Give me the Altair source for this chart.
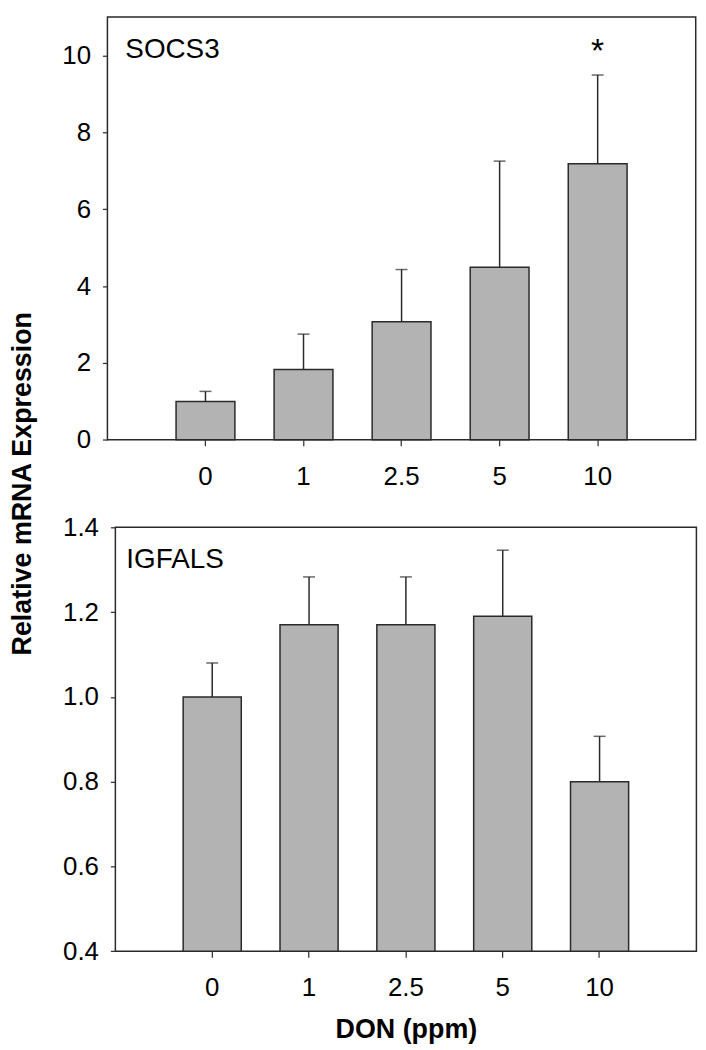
import altair as alt
import pandas as pd

# ---- data ----
doses = ["0", "1", "2.5", "5", "10"]

socs3_mean = [1.00, 1.83, 3.07, 4.49, 7.18]
socs3_sem = [0.26, 0.92, 1.36, 2.76, 2.31]
socs3_sig = ["", "", "", "", "*"]
socs3_sig_y = [10.1, 10.1, 10.1, 10.1, 10.1]

igfals_mean = [1.00, 1.17, 1.17, 1.19, 0.80]
igfals_sem = [0.08, 0.113, 0.113, 0.156, 0.107]

socs3_ticks = [0, 2, 4, 6, 8, 10]
igfals_ticks = [0.4, 0.6, 0.8, 1.0, 1.2, 1.4]

FONT = "Liberation Sans"
INK = "#2a2a2a"
BAR_FILL = "#b3b3b3"

socs3 = pd.DataFrame({
    "dose": doses, "mean": socs3_mean,
    "upper": [m + s for m, s in zip(socs3_mean, socs3_sem)],
    "sig": socs3_sig, "sig_y": socs3_sig_y,
})
igfals = pd.DataFrame({
    "dose": doses, "mean": igfals_mean,
    "upper": [m + s for m, s in zip(igfals_mean, igfals_sem)],
})


def x_enc(axis):
    return alt.X("dose:N", sort=doses,
                 scale=alt.Scale(paddingInner=0.4, paddingOuter=0.7),
                 axis=axis)


def make_panel(df, ydom, base, y_axis, x_axis, width, height, label, label_x, star):
    ys = alt.Scale(domain=ydom, nice=False, zero=False)
    x = x_enc(x_axis)
    bars = alt.Chart(df).mark_bar(fill=BAR_FILL, stroke=INK, strokeWidth=1.5).encode(
        x=x, y=alt.Y("mean:Q", scale=ys, axis=y_axis), y2=alt.datum(base))
    rules = alt.Chart(df).mark_rule(color=INK, strokeWidth=1.5).encode(
        x=x, y=alt.Y("mean:Q", scale=ys, axis=y_axis), y2=alt.Y2("upper:Q"))
    caps = alt.Chart(df).mark_tick(color=INK, thickness=1.5, size=12, orient="horizontal").encode(
        x=x, y=alt.Y("upper:Q", scale=ys, axis=y_axis))
    lab = alt.Chart(pd.DataFrame({"t": [label]})).mark_text(
        align="left", baseline="middle", fontSize=28, font=FONT, color="black").encode(
        text="t:N", x=alt.value(label_x), y=alt.value(33))
    layers = [bars, rules, caps, lab]
    if star:
        st = alt.Chart(df).mark_text(baseline="middle", fontSize=34, font=FONT, color="black").encode(
            x=x, y=alt.Y("sig_y:Q", scale=ys, axis=y_axis), text="sig:N")
        layers.append(st)
    return alt.layer(*layers).properties(width=width, height=height)


common_y = dict(labelFontSize=26, labelFont=FONT, labelColor="black", labelPadding=12,
                tickSize=5, tickColor=INK, tickWidth=1.2, domain=False, grid=False)
common_x = dict(labelFontSize=26, labelFont=FONT, labelColor="black", labelPadding=18,
                labelAngle=0, tickSize=6, tickColor=INK, tickWidth=1.2, domain=False, grid=False)

top_y_axis = alt.Axis(values=socs3_ticks, format="d",
                      title="Relative mRNA Expression", titleX=-85, titleY=469,
                      titleAngle=270, titleAlign="center", titleBaseline="middle",
                      titleFontSize=27, titleFontWeight="bold", titleFont=FONT,
                      titleColor="black", **common_y)
top_x_axis = alt.Axis(title=None, **common_x)

bot_y_axis = alt.Axis(values=igfals_ticks, format=".1f", title=None, **common_y)
bot_x_axis = alt.Axis(title="DON (ppm)", titleFontSize=27, titleFontWeight="bold",
                      titleFont=FONT, titleColor="black", titlePadding=16, **common_x)

top = make_panel(socs3, [0, 11], 0, top_y_axis, top_x_axis, 591.7, 425.3, "SOCS3", 18, True)
bottom = make_panel(igfals, [0.4, 1.4], 0.4, bot_y_axis, bot_x_axis, 584.4, 426.4, "IGFALS", 11, False)

spacer = alt.Chart(pd.DataFrame({"v": [0]})).mark_point(opacity=0).properties(
    width=7.3, height=20, view=alt.ViewBackground(stroke="transparent"))

bottom_row = alt.hconcat(spacer, bottom, spacing=0, bounds="flush")

chart = alt.vconcat(top, bottom_row, spacing=87.3, bounds="flush").properties(
    padding={"left": 0, "top": 5, "right": 0, "bottom": 5},
    background="white",
).configure(font=FONT).configure_view(stroke=INK, strokeWidth=1.5)

chart.save("out.html", embed_options={"renderer": "svg", "actions": False})
